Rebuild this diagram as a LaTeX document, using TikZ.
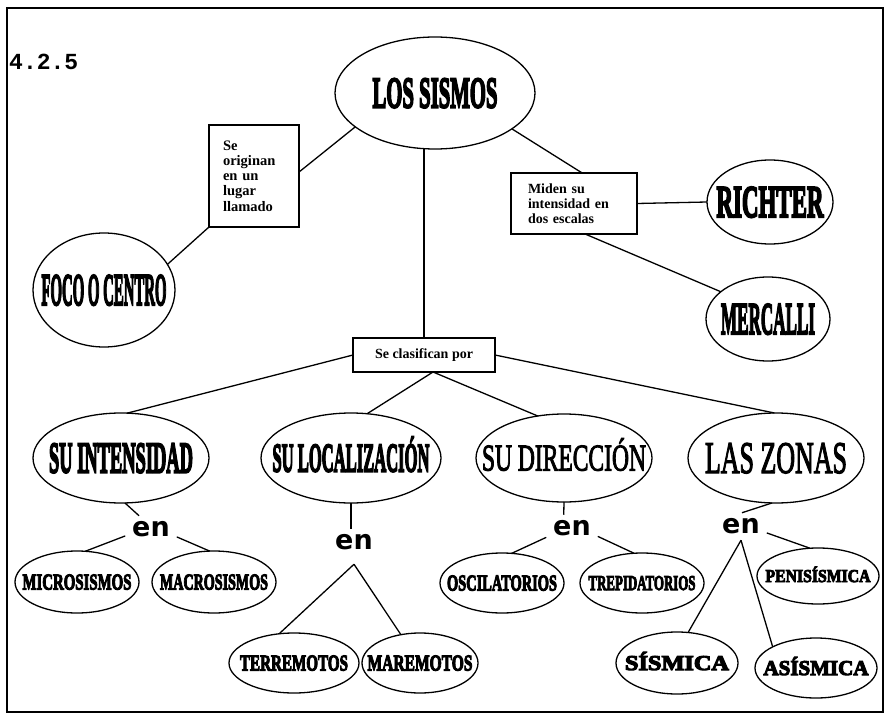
\documentclass[tikz,border=0pt]{standalone}
\usepackage{fontspec}
\setmainfont{Liberation Serif}
\newfontfamily\monofont{Liberation Mono}
\newfontfamily\enfont{DejaVu Sans}
\newfontfamily\heavyfont[UprightFont={* Bold}, FakeBold=5]{Liberation Serif}
\newfontfamily\medfont[FakeBold=3]{Liberation Serif}
\usetikzlibrary{shapes.geometric}
\newcommand{\ctxt}[3]{\smash{\makebox[0pt]{\raisebox{-0.5\height}{\resizebox{#1}{#2}{#3}}}}}
\tikzset{
  oval/.style={draw, ellipse, line width=1.3pt, inner sep=0pt, outer sep=0pt},
  tbox/.style={draw, rectangle, line width=1.3pt, inner sep=0pt, outer sep=0pt,
    font=\fontsize{14}{15}\selectfont\bfseries},
  enlab/.style={font=\enfont\bfseries\fontsize{27}{27}\selectfont, inner xsep=7pt, inner ysep=6pt, outer sep=0pt},
  conn/.style={line width=1.3pt},
}
\begin{document}
\begin{tikzpicture}[x=1pt,y=-1pt]
\useasboundingbox (0,0) rectangle (891,714);
\draw[line width=1.5pt] (7,8) rectangle (883,712);
\node[anchor=base west, inner sep=0pt, font=\monofont\bfseries\fontsize{23}{23}\selectfont] (num) at (9,70) {4.2.5};

% main ellipses
\node[oval, minimum width=200pt, minimum height=112pt] (sismos) at (435,93) {\ctxt{125pt}{29pt}{\heavyfont LOS SISMOS}};
\node[oval, minimum width=142pt, minimum height=114pt] (foco) at (104,290) {\ctxt{125pt}{30pt}{\heavyfont FOCO O CENTRO}};
\node[oval, minimum width=126pt, minimum height=84pt] (richter) at (770,202) {\ctxt{107pt}{30pt}{\heavyfont RICHTER}};
\node[oval, minimum width=124pt, minimum height=84pt] (mercalli) at (768,319) {\ctxt{94pt}{30pt}{\heavyfont MERCALLI}};

% boxes
\node[tbox, minimum width=90pt, minimum height=102pt, text width=62pt, align=left, font=\fontsize{14.5}{15.2}\selectfont\bfseries] (orig) at (254,176) {Se\\originan\\en un\\lugar\\llamado};
\node[tbox, minimum width=126pt, minimum height=61pt, text width=92pt, align=left] (miden) at (574,203.5) {Miden su\\intensidad en\\dos escalas};
\node[tbox, minimum width=142pt, minimum height=34pt] (clas) at (424,355) {Se clasifican por};

% second level
\node[oval, minimum width=176pt, minimum height=90pt] (inten) at (121,458) {\ctxt{144pt}{29pt}{\heavyfont SU INTENSIDAD}};
\node[oval, minimum width=180pt, minimum height=90pt] (local) at (351,458) {\ctxt{157pt}{27pt}{\heavyfont SU LOCALIZACI\smash{Ó}N}};
\node[oval, minimum width=176pt, minimum height=88pt] (direc) at (564,458) {\ctxt{164pt}{25pt}{\medfont SU DIRECCI\smash{Ó}N}};
\node[oval, minimum width=176pt, minimum height=90pt] (zonas) at (776,458) {\ctxt{142pt}{30pt}{\medfont LAS ZONAS}};

% "en" labels
\node[enlab] (en1) at (151,529.5) {en};
\node[enlab] (en2) at (354,542.5) {en};
\node[enlab] (en3) at (572,528.5) {en};
\node[enlab] (en4) at (741,526.5) {en};

% leaves
\node[oval, minimum width=124pt, minimum height=62pt] (micro) at (77,582) {\ctxt{109pt}{15pt}{\heavyfont MICROSISMOS}};
\node[oval, minimum width=124pt, minimum height=62pt] (macro) at (214,582) {\ctxt{108pt}{15pt}{\heavyfont MACROSISMOS}};
\node[oval, minimum width=130pt, minimum height=60pt] (terre) at (294,663) {\ctxt{108pt}{15pt}{\heavyfont TERREMOTOS}};
\node[oval, minimum width=116pt, minimum height=60pt] (mare) at (420,663) {\ctxt{105pt}{15pt}{\heavyfont MAREMOTOS}};
\node[oval, minimum width=124pt, minimum height=60pt] (osci) at (502,583) {\ctxt{110pt}{15pt}{\heavyfont OSCILATORIOS}};
\node[oval, minimum width=124pt, minimum height=60pt] (trepi) at (642,583) {\ctxt{107pt}{14pt}{\heavyfont TREPIDATORIOS}};
\node[oval, minimum width=122pt, minimum height=56pt] (peni) at (818,576) {\ctxt{105pt}{12pt}{\heavyfont PENIS\smash{Í}SMICA}};
\node[oval, minimum width=122pt, minimum height=62pt] (sis) at (677,663) {\ctxt{104pt}{14pt}{\heavyfont S\smash{Í}SMICA}};
\node[oval, minimum width=122pt, minimum height=60pt] (asis) at (816,668) {\ctxt{105pt}{14pt}{\heavyfont AS\smash{Í}SMICA}};

% connectors
\draw[conn] (orig.5) -- (sismos.203);
\draw[conn] (orig.south west) -- (foco.22);
\draw[conn] (clas.north |- sismos.south) -- (clas.north);
\draw[conn] (sismos.-25) -- (miden.75);
\draw[conn] (miden.east) -- (richter.west);
\draw[conn] (miden.-70) -- (mercalli.150);
\draw[conn] (clas.west) -- (inten.82);
\draw[conn] (clas.-62) -- (local.70);
\draw[conn] (clas.-62) -- (direc.122);
\draw[conn] (clas.east) -- (zonas.92);
\draw[conn] (inten.-85) -- (en1.131);
\draw[conn] (en1.194) -- (micro.75);
\draw[conn] (en1.-16) -- (macro.98);
\draw[conn] (local.south) -- (local.south |- en2.north);
\draw[conn] ([yshift=-8pt]en2.south) -- (terre.117);
\draw[conn] ([yshift=-8pt]en2.south) -- (mare.124);
\draw[conn] (direc.south) -- (en3.121);
\draw[conn] (en3.199) -- (osci.72);
\draw[conn] (en3.-17) -- (trepi.105);
\draw[conn] (zonas.-95) -- (en4.86);
\draw[conn] (en4.-14) -- (peni.106);
\draw[conn] (en4.south) -- (sis.70);
\draw[conn] (en4.south) -- (asis.154);
\end{tikzpicture}
\end{document}
